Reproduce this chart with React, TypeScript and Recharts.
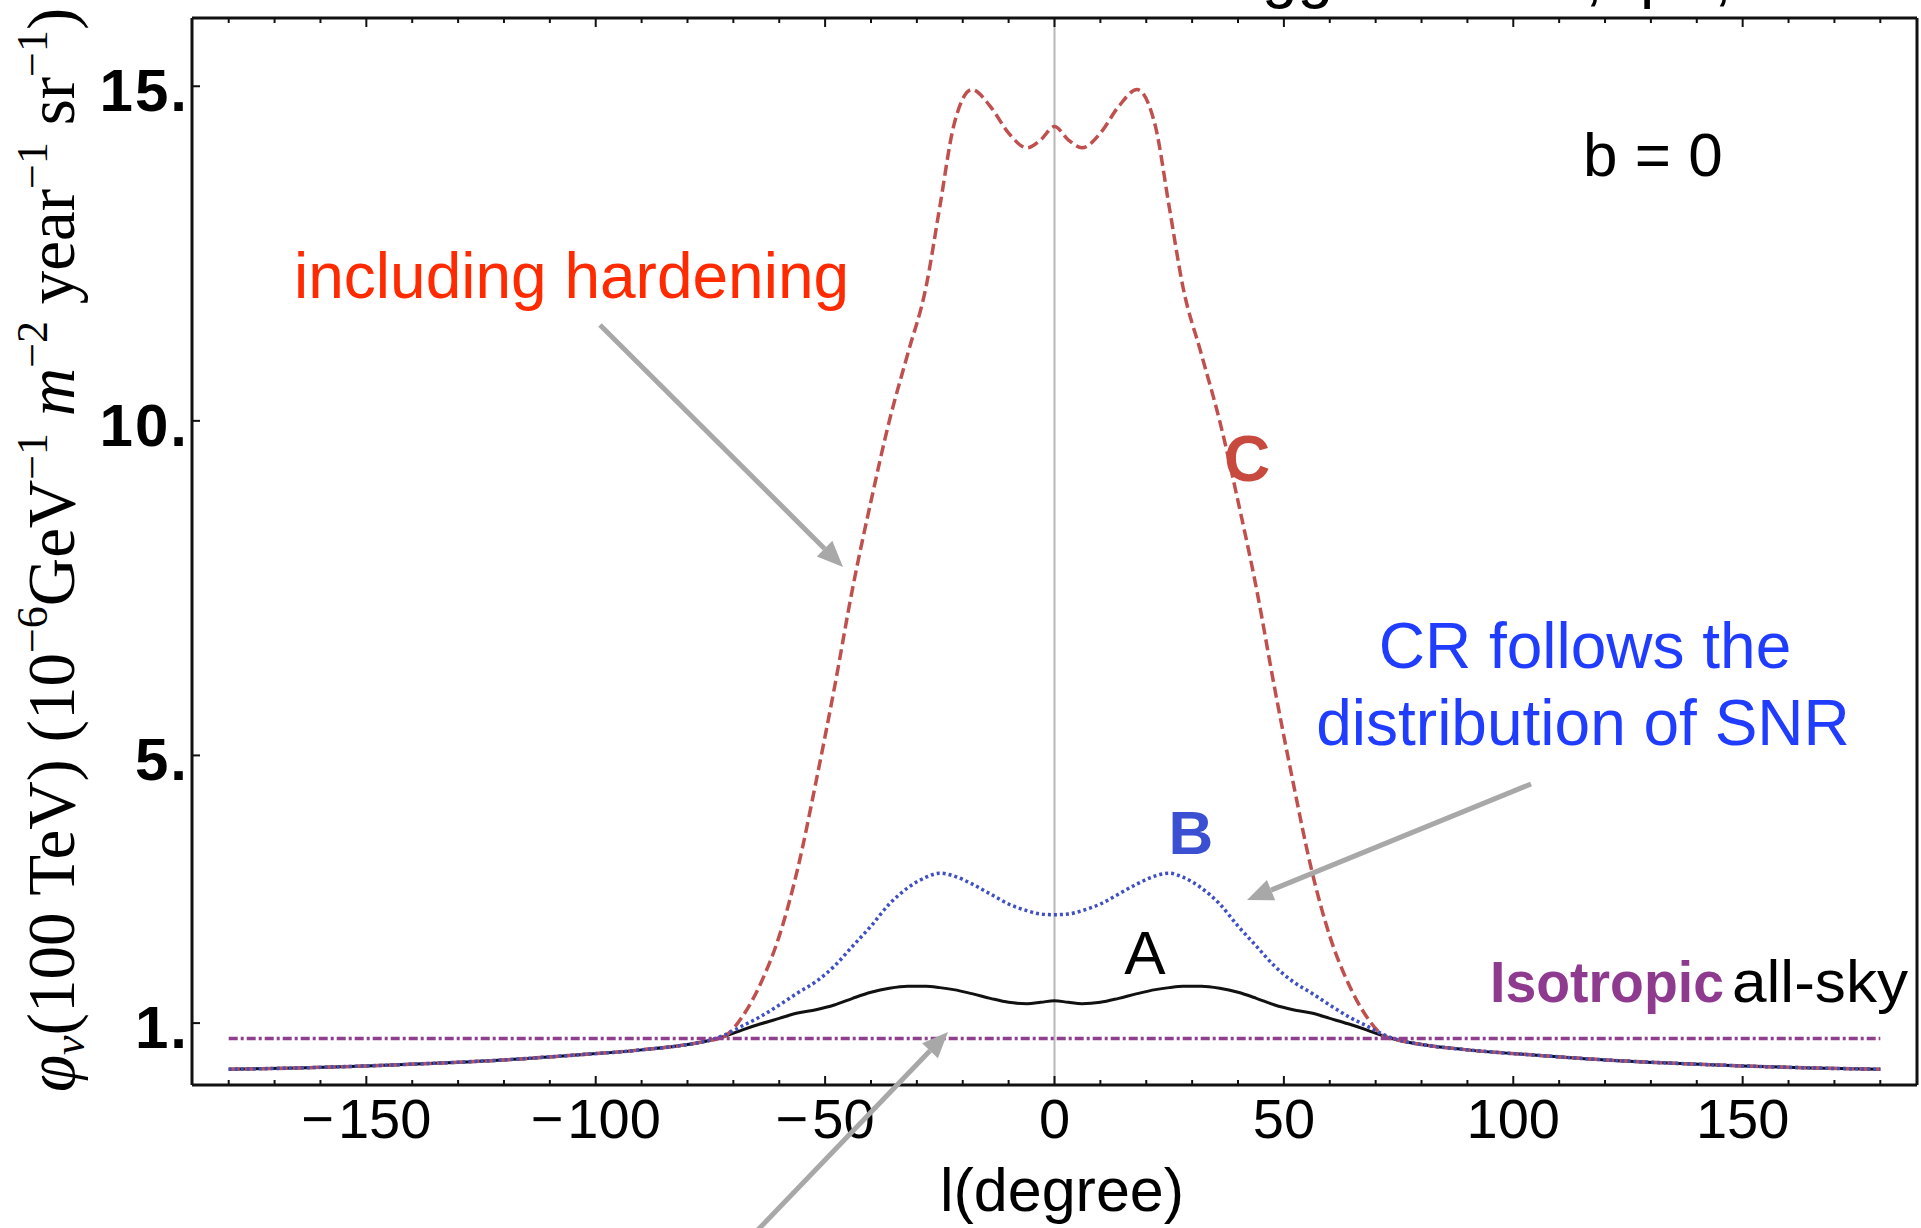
import React from 'react';
import { LineChart, Line, XAxis, YAxis, ReferenceLine } from 'recharts';

// galactic longitude grid (degrees)
const longitudes = [
  -180, -165, -150, -135, -120, -105, -90, -80, -76, -72, -68, -64, -60, -56, -52, -48, -44, -40, -36, -32, -28, -25, -22, -18, -14, -10, -6, -3,
  0,
  3, 6, 10, 14, 18, 22, 25, 28, 32, 36, 40, 44, 48, 52, 56, 60, 64, 68, 72, 76, 80, 90, 105, 120, 135, 150, 165, 180,
];

// model A: black solid
const fluxA = [
  0.31, 0.33, 0.36, 0.40, 0.45, 0.52, 0.60, 0.68, 0.73, 0.80, 0.90, 0.99, 1.07, 1.15, 1.20, 1.27, 1.37, 1.46, 1.52, 1.55, 1.55, 1.53, 1.50, 1.44, 1.37, 1.31, 1.29, 1.31,
  1.335,
  1.31, 1.29, 1.31, 1.37, 1.44, 1.50, 1.53, 1.55, 1.55, 1.52, 1.46, 1.37, 1.27, 1.20, 1.15, 1.07, 0.99, 0.90, 0.80, 0.73, 0.68, 0.60, 0.52, 0.45, 0.40, 0.36, 0.33, 0.31,
];

// model B: CR follows SNR distribution
const fluxB = [
  0.31, 0.33, 0.36, 0.40, 0.45, 0.52, 0.60, 0.68, 0.73, 0.82, 0.96, 1.10, 1.27, 1.45, 1.62, 1.85, 2.15, 2.45, 2.78, 3.02, 3.18, 3.24, 3.20, 3.08, 2.93, 2.78, 2.68, 2.63,
  2.62,
  2.63, 2.68, 2.78, 2.93, 3.08, 3.20, 3.24, 3.18, 3.02, 2.78, 2.45, 2.15, 1.85, 1.62, 1.45, 1.27, 1.10, 0.96, 0.82, 0.73, 0.68, 0.60, 0.52, 0.45, 0.40, 0.36, 0.33, 0.31,
];

// model C: including hardening
const fluxC = [
  0.31, 0.33, 0.36, 0.40, 0.45, 0.52, 0.60, 0.68, 0.73, 0.80, 1.10, 1.60, 2.30, 3.30, 4.60, 6.00, 7.50, 8.80, 10.00, 11.00, 12.00, 13.20, 14.40, 14.95, 14.70, 14.30, 14.08, 14.20,
  14.40,
  14.20, 14.08, 14.30, 14.70, 14.95, 14.40, 13.20, 12.00, 11.00, 10.00, 8.80, 7.50, 6.00, 4.60, 3.30, 2.30, 1.60, 1.10, 0.80, 0.73, 0.68, 0.60, 0.52, 0.45, 0.40, 0.36, 0.33, 0.31,
];

// isotropic all-sky level
const isoLongitudes = [-180, 180];
const isoFlux = [0.77, 0.77];

const xTicks = [
  -180, -170, -160, -150, -140, -130, -120, -110, -100, -90, -80, -70, -60, -50, -40, -30, -20, -10,
  0, 10, 20, 30, 40, 50, 60, 70, 80, 90, 100, 110, 120, 130, 140, 150, 160, 170, 180,
];
const yTicks = [1, 5, 10, 15];

const rows = longitudes.map((l, i) => ({ l, A: fluxA[i], B: fluxB[i], C: fluxC[i] }));
const isoRows = isoLongitudes.map((l, i) => ({ l, v: isoFlux[i] }));

const SANS = '"Liberation Sans", Arial, Helvetica, sans-serif';
const SERIF = '"Liberation Serif", "Times New Roman", serif';
const FRAME = '#111';

const BottomTick = (props: any) => {
  const { x, y, payload } = props;
  const v = payload.value;
  const major = v % 50 === 0;
  return (
    <g>
      <line x1={x} x2={x} y1={y} y2={y - (major ? 9 : 5)} stroke={FRAME} strokeWidth={2} />
      {major && (
        <text x={x} y={y + 53} textAnchor="middle" fontSize={56} fontFamily={SANS} fill="#000">
          {v < 0 && <tspan>{'\u2212'}</tspan>}
          <tspan dx={v < 0 ? 4 : 0}>{Math.abs(v)}</tspan>
        </text>
      )}
    </g>
  );
};

const TopTick = (props: any) => {
  const { x, y, payload } = props;
  const major = payload.value % 50 === 0;
  return <line x1={x} x2={x} y1={y} y2={y + (major ? 9 : 5)} stroke={FRAME} strokeWidth={2} />;
};

const LeftTick = (props: any) => {
  const { x, y, payload } = props;
  return (
    <g>
      <line x1={x} x2={x + 8} y1={y} y2={y} stroke={FRAME} strokeWidth={2} />
      <text x={x - 3} y={y + 25} textAnchor="end" fontSize={60} fontWeight="bold" letterSpacing={2} fontFamily={SANS} fill="#000">
        {payload.value + '.'}
      </text>
    </g>
  );
};

const Arrow = ({ x1, y1, x2, y2 }: { x1: number; y1: number; x2: number; y2: number }) => {
  const ang = Math.atan2(y2 - y1, x2 - x1);
  const len = 26;
  const half = 11;
  const bx = x2 - len * Math.cos(ang);
  const by = y2 - len * Math.sin(ang);
  const px = -Math.sin(ang) * half;
  const py = Math.cos(ang) * half;
  return (
    <g>
      <line x1={x1} y1={y1} x2={bx} y2={by} stroke="#a8a8a8" strokeWidth={5} />
      <polygon points={`${x2},${y2} ${bx + px},${by + py} ${bx - px},${by - py}`} fill="#a8a8a8" />
    </g>
  );
};

const Overlay = () => (
  <svg width={1921} height={1228} style={{ position: 'absolute', left: 0, top: 0, pointerEvents: 'none' }}>
    {/* cropped text fragments at the very top */}
    <g fontFamily={SANS} fontSize={64} fill="#000">
      <text x={1262} y={-4}>gg</text>
      <text x={1585} y={-2}>,</text>
      <text x={1640} y={-4}>p</text>
      <text x={1714} y={-2}>,</text>
    </g>

    {/* y-axis title */}
    <text transform="translate(74,1092) rotate(-90)" fontFamily={SERIF} fontSize={67} fill="#000">
      <tspan fontStyle="italic">φ</tspan>
      <tspan fontStyle="italic" fontSize={44} dy={10}>ν</tspan>
      <tspan dy={-10}>(100 TeV) (10</tspan>
      <tspan fontSize={44} dy={-27}>−6</tspan>
      <tspan dy={27}>GeV</tspan>
      <tspan fontSize={44} dy={-27}>−1</tspan>
      <tspan dy={27}> </tspan>
      <tspan fontStyle="italic">m</tspan>
      <tspan fontSize={44} dy={-27}>−2</tspan>
      <tspan dy={27}> year</tspan>
      <tspan fontSize={44} dy={-27}>−1</tspan>
      <tspan dy={27}> sr</tspan>
      <tspan fontSize={44} dy={-27}>−1</tspan>
      <tspan dy={27}>)</tspan>
    </text>

    {/* x-axis title */}
    <text x={1062} y={1211} textAnchor="middle" fontFamily={SANS} fontSize={61} fill="#000">l(degree)</text>

    <g fontFamily={SANS}>
      <text x={1583} y={176} fontSize={62} fill="#000">b = 0</text>
      <text x={294} y={298} fontSize={64} fill="#ff2a00">including hardening</text>
      <text x={1585} y={668} textAnchor="middle" fontSize={64} fill="#1f3cff">CR follows the</text>
      <text x={1583} y={745} textAnchor="middle" fontSize={64} fill="#1f3cff">distribution of SNR</text>
      <text x={1247} y={481} textAnchor="middle" fontSize={64} fontWeight="bold" fill="#c8493d">C</text>
      <text x={1191} y={854} textAnchor="middle" fontSize={62} fontWeight="bold" fill="#3a4fd2">B</text>
      <text x={1145} y={974} textAnchor="middle" fontSize={62} fill="#000">A</text>
      <text x={1490} y={1002} fontSize={57} fontWeight="bold" fill="#8e3a8e" textLength={234} lengthAdjust="spacingAndGlyphs">Isotropic</text>
      <text x={1732} y={1002} fontSize={60} fill="#000" textLength={176} lengthAdjust="spacingAndGlyphs">all-sky</text>
    </g>

    <Arrow x1={600} y1={325} x2={843} y2={567} />
    <Arrow x1={1531} y1={784} x2={1247} y2={900} />
    <Arrow x1={752} y1={1236} x2={948} y2={1032} />
  </svg>
);

export default function App() {
  return (
    <div style={{ position: 'absolute', left: 0, top: 0, width: 1921, height: 1228, background: '#fff' }}>
      <LineChart width={1921} height={1228} data={rows} margin={{ top: 0, right: 0, bottom: 0, left: 0 }}>
        <XAxis
          xAxisId="b"
          dataKey="l"
          type="number"
          domain={[-188, 188]}
          allowDataOverflow
          ticks={xTicks}
          interval={0}
          orientation="bottom"
          height={143}
          tickSize={0}
          tickMargin={0}
          tickLine={false}
          tick={<BottomTick />}
          axisLine={{ stroke: FRAME, strokeWidth: 3 }}
        />
        <XAxis
          xAxisId="t"
          dataKey="l"
          type="number"
          domain={[-188, 188]}
          allowDataOverflow
          ticks={xTicks}
          interval={0}
          orientation="top"
          height={18}
          tickSize={0}
          tickMargin={0}
          tickLine={false}
          tick={<TopTick />}
          axisLine={{ stroke: FRAME, strokeWidth: 3 }}
        />
        <YAxis
          yAxisId="l"
          type="number"
          domain={[0.075, 16.02]}
          allowDataOverflow
          ticks={yTicks}
          interval={0}
          width={192}
          tickSize={0}
          tickMargin={0}
          tickLine={false}
          tick={<LeftTick />}
          axisLine={{ stroke: FRAME, strokeWidth: 3 }}
        />
        <YAxis
          yAxisId="r"
          orientation="right"
          type="number"
          domain={[0.075, 16.02]}
          width={4}
          tick={false}
          tickLine={false}
          axisLine={{ stroke: FRAME, strokeWidth: 3 }}
        />
        <ReferenceLine xAxisId="b" yAxisId="l" x={0} stroke="#b8b8b8" strokeWidth={2} />
        <Line xAxisId="b" yAxisId="l" dataKey="A" type="monotone" stroke="#111" strokeWidth={3} dot={false} activeDot={false} isAnimationActive={false} />
        <Line xAxisId="b" yAxisId="l" dataKey="C" type="monotone" stroke="#c0504d" strokeWidth={3.5} strokeDasharray="11 5" dot={false} activeDot={false} isAnimationActive={false} />
        <Line xAxisId="b" yAxisId="l" dataKey="B" type="monotone" stroke="#3f4fc4" strokeWidth={3.5} strokeDasharray="3 3" dot={false} activeDot={false} isAnimationActive={false} />
        <Line xAxisId="b" yAxisId="l" data={isoRows} dataKey="v" type="linear" stroke="#8e3f8e" strokeWidth={3.5} strokeDasharray="9 3 3 3" dot={false} activeDot={false} isAnimationActive={false} />
      </LineChart>
      <Overlay />
    </div>
  );
}
